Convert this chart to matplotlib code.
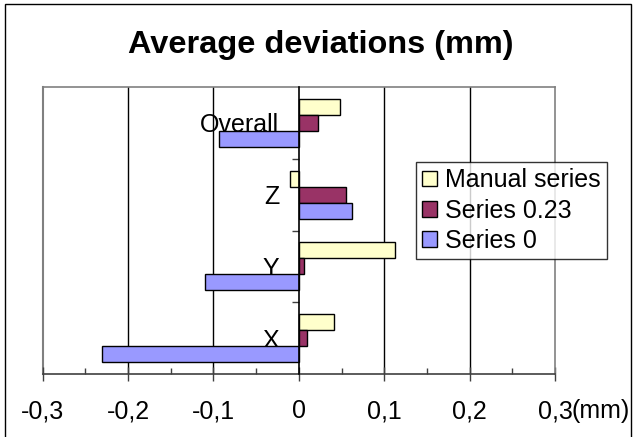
import matplotlib
matplotlib.use("Agg")
import matplotlib.pyplot as plt
from matplotlib.patches import Rectangle
import numpy as np

plt.rcParams["font.family"] = ["Liberation Sans", "DejaVu Sans"]

# Average deviations per axis, in mm
categories = ["X", "Y", "Z", "Overall"]
series_names = ["Manual series", "Series 0.23", "Series 0"]
manual_series = [0.041, 0.113, -0.010, 0.048]
series_023 = [0.0095, 0.006, 0.055, 0.023]
series_0 = [-0.230, -0.110, 0.062, -0.093]
x_ticks = [-0.3, -0.2, -0.1, 0.0, 0.1, 0.2, 0.3]
x_tick_labels = ["-0,3", "-0,2", "-0,1", "0", "0,1", "0,2", "0,3"]

colors = ["#FFFFCC", "#993366", "#9999FF"]
FS = 18
W, H = 636, 437
fig = plt.figure(figsize=(W / 100, H / 100), dpi=100)
ax = fig.add_axes([42.7 / W, 1 - 374 / H, (555 - 42.7) / W, (374 - 87) / H])

# gap width 150%: each bar takes 1/4.5 of a category band
bar_h = 1 / 4.5
y = np.arange(len(categories))
for i, (vals, name, col) in enumerate(zip([manual_series, series_023, series_0],
                                          series_names, colors)):
    ax.barh(y + (1 - i) * bar_h, vals, height=bar_h, color=col,
            edgecolor="black", linewidth=1, label=name, zorder=3)

ax.set_xlim(-0.3, 0.3)
ax.set_ylim(-0.5, len(categories) - 0.5)

# vertical gridlines, grey frame of the plot area
for xv in x_ticks[1:-1]:
    if xv != 0:
        ax.axvline(xv, color="black", linewidth=1, zorder=1)
for s in ["top", "right"]:
    ax.spines[s].set_color("#808080")
    ax.spines[s].set_linewidth(1.2)
ax.axvline(-0.3, color="#808080", linewidth=1.5, zorder=1, clip_on=False)

# value axis through zero with category labels beside it
ax.spines["left"].set_position(("data", 0))
ax.spines["left"].set_color("black")
ax.spines["left"].set_linewidth(1.2)
ax.spines["left"].set_zorder(4)
ax.set_yticks(y[:-1] + 0.5)
ax.set_yticklabels([])
ax.tick_params(axis="y", which="major", direction="out", length=5,
               width=1, color="#404040")
ax.set_yticks(y, minor=True)
ax.set_yticklabels(categories, minor=True, fontsize=FS)
ax.tick_params(axis="y", which="minor", length=0, pad=14)

ax.spines["bottom"].set_color("#404040")
ax.spines["bottom"].set_linewidth(1.2)
ax.set_xticks(x_ticks)
ax.set_xticklabels(x_tick_labels, fontsize=FS)
ax.set_xticks(np.arange(-0.25, 0.3, 0.1), minor=True)
ax.tick_params(axis="x", which="major", direction="inout", length=10,
               width=1, color="#404040", pad=13)
ax.tick_params(axis="x", which="minor", direction="in", length=4,
               width=1, color="#404040")
# unit appended after the last tick label
ax.annotate("(mm)", xy=(0.3, 0), xycoords=("data", "axes fraction"),
            xytext=(12, -18), textcoords="offset points",
            ha="left", va="top", fontsize=FS)

leg = ax.legend(loc="upper left", bbox_to_anchor=(416 / W, 1 - 162 / H),
                bbox_transform=fig.transFigure, borderaxespad=0,
                fontsize=FS, frameon=True, fancybox=False,
                handlelength=0.6, handleheight=0.6, handletextpad=0.3,
                labelspacing=0.25, borderpad=0.25)
leg.get_frame().set_edgecolor("black")
leg.get_frame().set_linewidth(1)

fig.text(321 / W, 1 - 45 / H, "Average deviations (mm)", ha="center",
         va="center", fontsize=23.4, fontweight="bold")

fig.patches.append(Rectangle((5 / W, -0.01), (631 - 5) / W, 1 - 4 / H + 0.01,
                             transform=fig.transFigure, fill=False,
                             edgecolor="black", linewidth=1))

fig.savefig("out.png", dpi=100)
